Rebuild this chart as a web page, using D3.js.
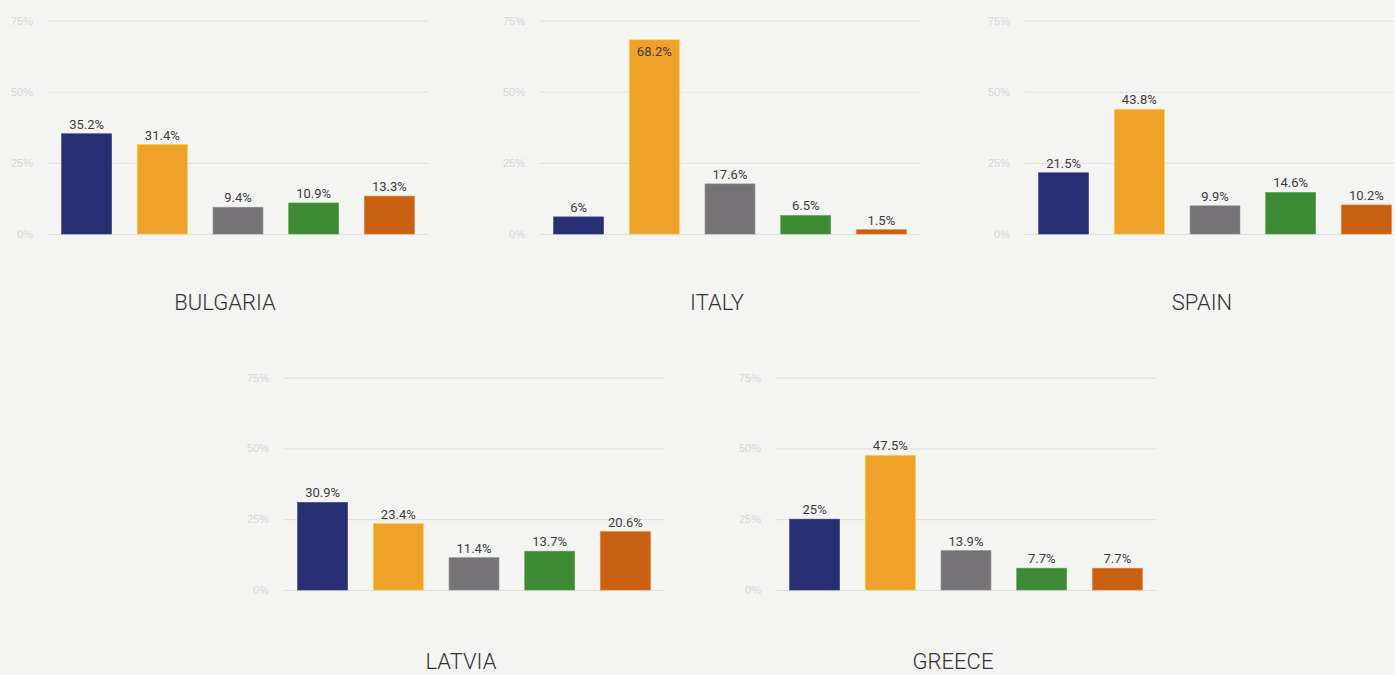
<!DOCTYPE html>
<html lang="en">
<head>
<meta charset="utf-8">
<style>
  html, body { margin: 0; padding: 0; background: #f4f4f2; }
  svg { display: block; font-family: 'Roboto', sans-serif; }
  .grid line { stroke: #dedede; stroke-width: 1px; }
  .grid text { fill: #d6d6d6; font-size: 11px; font-weight: 500; }
  .value { fill: #3d3d3d; font-size: 13px; }
  .title { fill: #333; font-size: 22px; font-weight: 300; }
</style>
</head>
<body>
<svg width="1395" height="675"></svg>
<script src="https://d3js.org/d3.v7.min.js"></script>
<script>
// data
const countries = ["BULGARIA", "ITALY", "SPAIN", "LATVIA", "GREECE"]
const categories = ["a", "b", "c", "d", "e"]
const bulgaria = [35.2, 31.4, 9.4, 10.9, 13.3]
const italy = [6, 68.2, 17.6, 6.5, 1.5]
const spain = [21.5, 43.8, 9.9, 14.6, 10.2]
const latvia = [30.9, 23.4, 11.4, 13.7, 20.6]
const greece = [25, 47.5, 13.9, 7.7, 7.7]
const seriesValues = [bulgaria, italy, spain, latvia, greece]
const tickValues = [0, 25, 50, 75]
const colors = ["#272f72", "#eea229", "#767377", "#3d8934", "#c95f12"]

// layout of the five small panels
const panelLeft = [48, 540, 1025, 284, 776]
const panelRow = [0, 0, 0, 1, 1]
const rows = [
  { bottom: 234, top: 20.5, titleY: 310 },
  { bottom: 590, top: 377.5, titleY: 669 }
]
const panelWidth = 380

const svg = d3.select("svg")

countries.forEach(function (name, i) {
  const row = rows[panelRow[i]]
  const x0 = panelLeft[i]
  const values = seriesValues[i]

  const x = d3.scaleBand().domain(categories)
    .range([x0, x0 + panelWidth])
    .paddingInner(0.34).paddingOuter(0.18)
  const y = d3.scaleLinear().domain([0, 75]).range([row.bottom, row.top])

  const g = svg.append("g").attr("class", "panel")

  // gridlines + tick labels
  const axis = d3.axisLeft(y).tickValues(tickValues)
    .tickSize(-panelWidth).tickPadding(15)
    .tickFormat(function (d) { return d + "%" })
  g.append("g")
    .attr("class", "grid")
    .attr("transform", "translate(" + x0 + ",0)")
    .call(axis)
    .call(function (a) { a.select(".domain").remove() })

  g.selectAll("rect.bar")
    .data(values)
    .join("rect")
    .attr("class", "bar")
    .attr("x", function (d, j) { return x(categories[j]) })
    .attr("width", x.bandwidth())
    .attr("y", function (d) { return y(d) })
    .attr("height", function (d) { return y(0) - y(d) })
    .attr("fill", function (d, j) { return colors[j] })
    .attr("stroke", function (d, j) { return d3.color(colors[j]).brighter(0.6) })
    .attr("stroke-width", 0.6)

  g.selectAll("text.value")
    .data(values)
    .join("text")
    .attr("class", "value")
    .attr("text-anchor", "middle")
    .attr("x", function (d, j) { return x(categories[j]) + x.bandwidth() / 2 })
    .attr("y", function (d) {
      // labels that would hit the top go inside the bar
      return (y(d) - 24 < y(75)) ? y(d) + 16 : y(d) - 5
    })
    .text(function (d) { return d + "%" })

  g.append("text")
    .attr("class", "title")
    .attr("text-anchor", "middle")
    .attr("x", x0 + 177)
    .attr("y", row.titleY)
    .text(name)
})
</script>
</body>
</html>
